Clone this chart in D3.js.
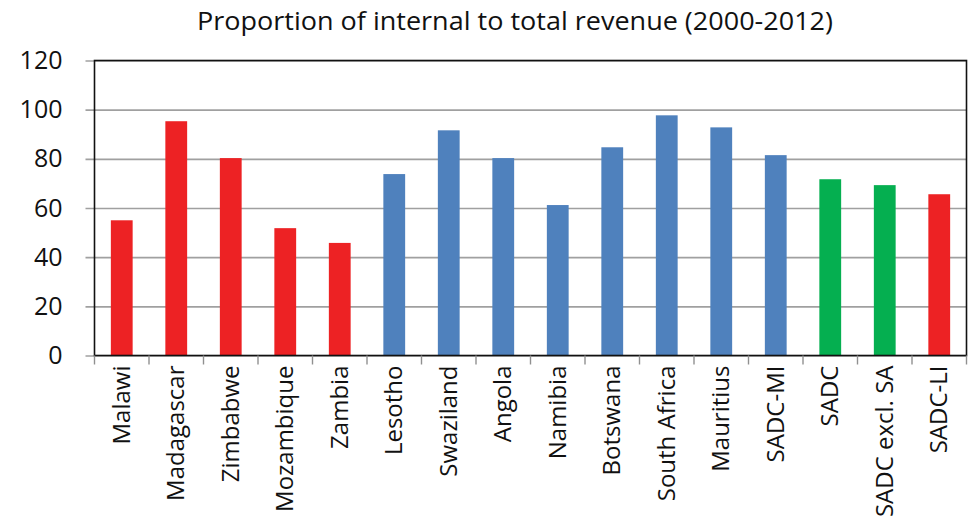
<!DOCTYPE html>
<html>
<head>
<meta charset="utf-8">
<script src="https://cdn.jsdelivr.net/npm/d3@7"></script>
<style>
  html, body { margin: 0; padding: 0; background: #fff; }
  svg { display: block; font-family: "Open Sans", "Noto Sans", sans-serif; }
</style>
</head>
<body>
<svg id="chart" width="971" height="523"></svg>
<script>
// Share of internal revenue in total revenue, averaged 2000-2012
const categories = ["Malawi", "Madagascar", "Zimbabwe", "Mozambique", "Zambia",
  "Lesotho", "Swaziland", "Angola", "Namibia", "Botswana", "South Africa",
  "Mauritius", "SADC-MI", "SADC", "SADC excl. SA", "SADC-LI"];
const values = [55, 95.3, 80.3, 51.8, 45.8, 73.8, 91.6, 80.3, 61.2, 84.7, 97.7,
  92.8, 81.5, 71.7, 69.3, 65.6];
// income group of each entry: low income, middle income, regional aggregate
const groups = ["LI", "LI", "LI", "LI", "LI", "MI", "MI", "MI", "MI", "MI", "MI",
  "MI", "MI", "AGG", "AGG", "LI"];
const yTicks = [0, 20, 40, 60, 80, 100, 120];
const title = "Proportion of internal to total revenue (2000-2012)";

const colorOf = { LI: "#ED2224", MI: "#4F81BD", AGG: "#05AF50" };

const svg = d3.select("#chart");
const plot = { left: 94.5, right: 966.5, top: 60.5, bottom: 355.5 };

const x = d3.scaleBand().domain(categories).range([plot.left, plot.right])
  .paddingInner(0.6).paddingOuter(0.3);
const y = d3.scaleLinear().domain([0, 120]).range([plot.bottom, plot.top]);

// horizontal gridlines, extended left of the axis as tick marks
const yAxis = d3.axisLeft(y).tickValues(yTicks).tickSize(-(plot.right - plot.left))
  .tickSizeOuter(0).tickPadding(32);
const gy = svg.append("g").attr("transform", `translate(${plot.left},0)`).call(yAxis);
gy.select(".domain").remove();
gy.selectAll(".tick line").attr("stroke", "#a0a0a0").attr("stroke-width", 1.6)
  .attr("x1", -9);
gy.selectAll(".tick text").attr("font-size", 25).attr("fill", "#111")
  .attr("font-family", "'Open Sans', sans-serif");

// bars
svg.append("g").selectAll("rect").data(categories).join("rect")
  .attr("x", d => x(d))
  .attr("width", x.bandwidth())
  .attr("y", (d, i) => y(values[i]))
  .attr("height", (d, i) => y(0) - y(values[i]))
  .attr("fill", (d, i) => colorOf[groups[i]]);

// plot frame
svg.append("rect").attr("x", plot.left).attr("y", plot.top)
  .attr("width", plot.right - plot.left).attr("height", plot.bottom - plot.top)
  .attr("fill", "none").attr("stroke", "#111").attr("stroke-width", 1.6);

// category boundary ticks below the axis
const bounds = d3.range(categories.length + 1)
  .map(i => plot.left + i * (plot.right - plot.left) / categories.length);
svg.append("g").selectAll("line").data(bounds).join("line")
  .attr("x1", d => d).attr("x2", d => d)
  .attr("y1", plot.bottom).attr("y2", plot.bottom + 9)
  .attr("stroke", "#909090").attr("stroke-width", 1.4);

// rotated category labels
svg.append("g").selectAll("text").data(categories).join("text")
  .attr("transform", d => `translate(${x(d) + x.bandwidth() / 2 + 8},${plot.bottom + 10}) rotate(-90)`)
  .attr("text-anchor", "end")
  .attr("font-size", 24)
  .attr("fill", "#111")
  .text(d => d);

// title
svg.append("text")
  .attr("x", 515).attr("y", 30)
  .attr("text-anchor", "middle")
  .attr("font-size", 26)
  .attr("fill", "#111")
  .attr("textLength", 636)
  .attr("lengthAdjust", "spacingAndGlyphs")
  .text(title);
</script>
</body>
</html>
